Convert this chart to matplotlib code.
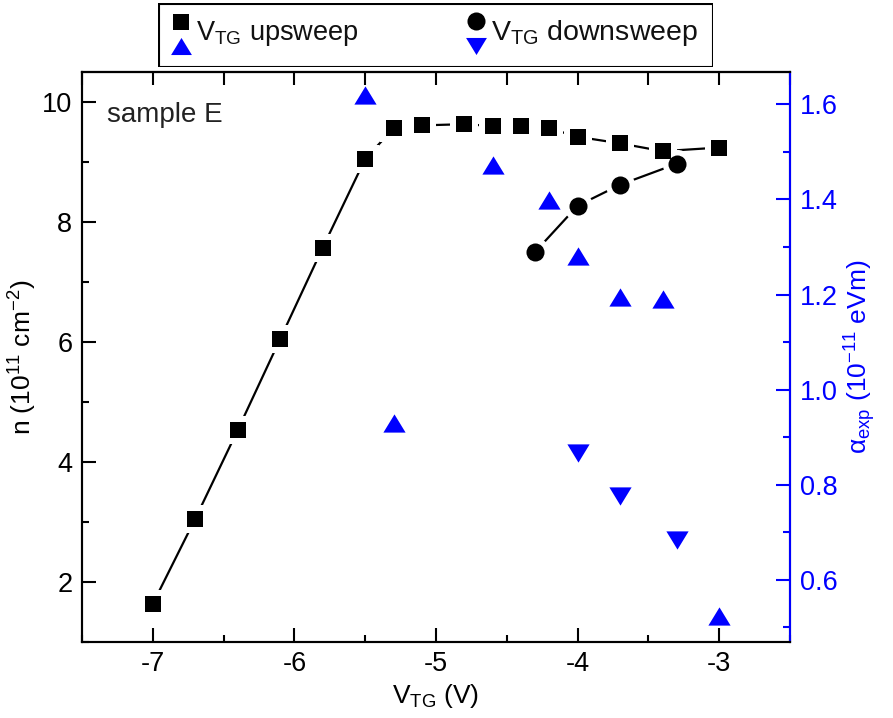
import matplotlib
matplotlib.use('Agg')
import matplotlib.pyplot as plt
from matplotlib.ticker import MultipleLocator
from matplotlib.patches import Rectangle

plt.rcParams['font.family'] = ['Liberation Sans', 'DejaVu Sans']
plt.rcParams['mathtext.fontset'] = 'custom'
plt.rcParams['mathtext.rm'] = 'Liberation Sans'
plt.rcParams['mathtext.it'] = 'Liberation Sans'
plt.rcParams['mathtext.default'] = 'regular'
plt.rcParams['axes.unicode_minus'] = False

# carrier density, V_TG upsweep
vtg_up = [-7.0, -6.7, -6.4, -6.1, -5.8, -5.5, -5.3, -5.1, -4.8, -4.6, -4.4, -4.2, -4.0, -3.7, -3.4, -3.0]
n_up = [1.63, 3.05, 4.53, 6.05, 7.57, 9.05, 9.56, 9.61, 9.63, 9.60, 9.60, 9.56, 9.42, 9.31, 9.18, 9.24]

# carrier density, V_TG downsweep
vtg_down = [-4.3, -4.0, -3.7, -3.3]
n_down = [7.50, 8.27, 8.62, 8.97]

# alpha_exp, upsweep / downsweep
vtg_a_up = [-5.5, -5.3, -4.6, -4.2, -4.0, -3.7, -3.4, -3.0]
alpha_up = [1.62, 0.93, 1.473, 1.398, 1.282, 1.195, 1.19, 0.525]
vtg_a_down = [-4.0, -3.7, -3.3]
alpha_down = [0.867, 0.777, 0.683]

blue = '#0000ff'
up_tri = [(0, 0.82), (-1, -0.82), (1, -0.82)]
down_tri = [(0, -0.82), (-1, 0.82), (1, 0.82)]

fig = plt.figure(figsize=(8.93, 7.18), dpi=100)
ax = fig.add_axes([0.0918, 0.1063, 0.7929, 0.7934])
ax2 = ax.twinx()


def gapped(axis, x, y, marker, ms):
    # line with a small gap to the symbols, like Origin does
    axis.plot(x, y, '-', color='black', lw=1.6, zorder=1)
    axis.plot(x, y, marker, ls='none', color='white', ms=ms + 8, mew=0, zorder=2)
    axis.plot(x, y, marker, ls='none', color='black', ms=ms, mew=0, zorder=3)


gapped(ax, vtg_up, n_up, 's', 11.5)
gapped(ax, vtg_down, n_down, 'o', 13)

ax2.plot(vtg_a_up, alpha_up, ls='none', marker=up_tri, color=blue, ms=16, mew=0)
ax2.plot(vtg_a_down, alpha_down, ls='none', marker=down_tri, color=blue, ms=16, mew=0)

ax.set_xlim(-7.5, -2.5)
ax.set_ylim(1.0, 10.5)
ax2.set_ylim(0.47, 1.668)

ax.xaxis.set_major_locator(MultipleLocator(1))
ax.xaxis.set_minor_locator(MultipleLocator(0.5))
ax.yaxis.set_major_locator(MultipleLocator(2))
ax.yaxis.set_minor_locator(MultipleLocator(1))
ax2.yaxis.set_major_locator(MultipleLocator(0.2))
ax2.yaxis.set_minor_locator(MultipleLocator(0.1))
ax2.yaxis.set_major_formatter(plt.FormatStrFormatter('%.1f'))

ax.tick_params(axis='both', which='major', direction='in', length=10, width=1.5,
               labelsize=19.5, pad=7)
ax.tick_params(axis='both', which='minor', direction='in', length=5, width=1.5)
ax.tick_params(axis='y', which='both', right=False)
ax2.tick_params(axis='y', which='major', direction='in', length=10, width=1.5,
                labelsize=19.5, colors=blue, pad=7)
ax2.tick_params(axis='y', which='minor', direction='in', length=5, width=1.5, colors=blue)

top = ax.secondary_xaxis('top')
top.xaxis.set_major_locator(MultipleLocator(0.5))
top.tick_params(direction='in', length=9, width=1.5, labeltop=False)
top.spines['top'].set_linewidth(1.5)

for s in ax.spines.values():
    s.set_linewidth(1.5)
for s in ax2.spines.values():
    s.set_linewidth(1.5)
ax2.spines['right'].set_color(blue)

ax.set_xlabel('V$_{TG}$ (V)', fontsize=19, labelpad=3)
ax.set_ylabel('n (10$^{11}$ cm$^{-2}$)', fontsize=19, labelpad=2)
ax2.set_ylabel('α$_{exp}$ (10$^{-11}$ eVm)', fontsize=19, color=blue, labelpad=3)

ax.text(0.035, 0.925, 'sample E', transform=ax.transAxes, fontsize=20,
        color='#222222', va='center', ha='left')

# legend box drawn by hand (two symbols stacked per entry)
leg = fig.add_axes([158 / 893, 1 - 67 / 718, 555 / 893, 64 / 718])
leg.set_xlim(0, 555)
leg.set_ylim(64, 0)
leg.axis('off')
leg.add_patch(Rectangle((0.5, 0.5), 554, 63, fill=False, lw=1.5, ec='black'))
leg.plot([23], [19], 's', color='black', ms=11, mew=0)
leg.plot([23], [43], ls='none', marker=up_tri, color=blue, ms=15, mew=0)
leg.text(38, 30, 'V$_{TG}$ upsweep', fontsize=19.5, va='center', color='#111111')
leg.plot([318], [18], 'o', color='black', ms=13, mew=0)
leg.plot([318], [43], ls='none', marker=down_tri, color=blue, ms=15, mew=0)
leg.text(333, 30, 'V$_{TG}$ downsweep', fontsize=20.5, va='center', color='#111111')

fig.savefig('out.png', dpi=100)
